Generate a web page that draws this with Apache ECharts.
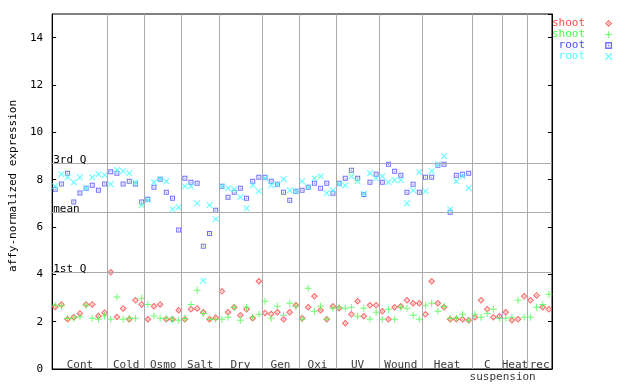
<!DOCTYPE html>
<html><head><meta charset="utf-8">
<script src="https://cdn.jsdelivr.net/npm/echarts@6/dist/echarts.min.js"></script>
<style>html,body{margin:0;padding:0;background:#fff}#c{width:640px;height:384px}</style>
</head><body><div id="c"></div>
<script>
const groupNames = ['Cont','Cold','Osmo','Salt','Dry','Gen','Oxi','UV','Wound','Heat','C','Heat','rec'];
const groupSizes = [9,6,6,6,7,6,6,7,7,8,5,4,4];
const subLabel = {text:'suspension', at:73.0};
const shootRep1 = [2.62,2.73,2.10,2.19,2.35,2.73,2.73,2.24,2.38,
  4.09,2.20,2.56,2.10,2.90,2.73,
  2.10,2.65,2.73,2.10,2.10,2.48,
  2.10,2.52,2.56,2.40,2.10,2.17,
  3.28,2.40,2.61,2.27,2.52,2.14,3.71,
  2.37,2.32,2.40,2.10,2.40,2.69,
  2.14,2.61,3.07,2.48,2.10,2.65,
  2.57,1.93,2.31,2.86,2.23,2.69,2.69,
  2.44,2.10,2.61,2.65,2.90,2.78,2.78,
  2.31,3.71,2.78,2.61,2.10,2.10,2.10,2.06,
  2.19,2.90,2.52,2.19,2.23,
  2.40,2.06,2.10,3.07,
  2.90,3.11,2.61,2.52];
const shootRep2 = [2.69,2.66,2.13,2.15,2.21,2.69,2.14,2.10,2.24,
  2.10,3.04,2.10,2.14,2.14,2.99,
  2.73,2.24,2.14,2.14,2.10,2.06,
  2.13,2.73,3.33,2.35,2.10,2.10,
  2.10,2.19,2.61,2.06,2.61,2.19,2.31,
  2.86,2.14,2.65,2.27,2.78,2.65,
  2.10,3.41,2.44,2.65,2.10,2.57,
  2.61,2.57,2.61,2.23,2.57,2.10,2.40,
  2.10,2.52,2.10,2.61,2.57,2.27,2.10,
  2.69,2.78,2.44,2.65,2.14,2.14,2.31,2.06,
  2.31,2.19,2.35,2.52,2.14,
  2.14,2.19,2.90,2.19,
  2.19,2.61,2.73,3.16];
const rootRep1 = [7.59,7.82,8.27,7.06,7.44,7.64,7.76,7.55,7.82,
  8.33,8.27,7.82,7.93,7.82,7.06,
  7.17,7.68,8.02,7.47,7.21,5.87,
  8.06,7.89,7.85,5.19,5.73,6.71,
  7.72,7.26,7.47,7.64,7.21,7.93,8.10,
  8.10,7.93,7.81,7.47,7.13,7.51,
  7.55,7.68,7.85,7.64,7.85,7.43,
  7.85,8.06,8.40,8.06,7.37,7.89,8.23,
  7.89,8.65,8.36,8.19,7.47,7.81,7.47,
  8.10,8.10,8.61,8.65,6.62,8.19,8.23,8.27,
  null,null,null,null,null,null,null,null,null,null,null,null,null];
const rootRep2 = [7.73,8.23,8.10,7.89,8.10,7.64,8.10,8.23,8.19,
  7.81,8.41,8.36,8.27,7.89,6.92,
  7.13,7.89,8.02,7.93,6.75,6.83,
  7.72,7.72,7.00,3.73,6.92,6.33,
  7.72,7.64,7.59,7.26,6.79,7.76,7.51,
  8.06,7.76,7.81,8.02,7.55,7.51,
  7.93,7.68,8.06,8.14,7.43,7.55,
  7.81,7.76,8.14,7.93,7.40,8.27,8.06,
  8.14,7.89,7.98,7.98,7.00,7.55,8.31,
  7.51,8.36,8.65,8.99,6.75,7.93,8.14,7.64,
  null,null,null,null,null,null,null,null,null,null,null,null,null];
const refLines = [{name:'3rd Q', value:8.69},{name:'mean', value:6.62},{name:'1st Q', value:4.09}];

const FONT = 'DejaVu Sans Mono';
const RED = '#ff4c4c', GREEN = '#4cff4c', BLUE = '#4c4cff', CYAN = '#4cffff';
const SYM_DIAMOND = 'path://M3.5,0L7,3.5L3.5,7L0,3.5Z M3.5,1.7L1.7,3.5L3.5,5.3L5.3,3.5Z M3.5,2.8L4.2,3.5L3.5,4.2L2.8,3.5Z';
const SYM_PLUS = 'path://M3,0H4V3H7V4H4V7H3V4H0V3H3Z';
const SYM_SQUARE = 'path://M0,0H5V5H0Z M1,1V4H4V1Z M2,2H3V3H2Z';
const SYM_X = 'path://M0,0L1,0L3.5,2.5L6,0L7,0L7,1L4.5,3.5L7,6L7,7L6,7L3.5,4.5L1,7L0,7L0,6L2.5,3.5L0,1Z';

const total = groupSizes.reduce((a,b)=>a+b,0);
const bounds = []; const centers = [];
let acc = 0;
groupSizes.forEach((s,k)=>{ centers.push(acc + s/2); acc += s; if (k < groupSizes.length-1) bounds.push(acc); });

const toPts = arr => arr.map((v,i)=> v==null ? null : [i+0.5, v]).filter(p=>p);

const chart = echarts.init(document.getElementById('c'), null, {renderer:'canvas'});
const labelData = groupNames.map((n,k)=>({value:[centers[k],0], name:n}));
labelData.push({value:[subLabel.at,0], name:subLabel.text, label:{position:'bottom', distance:3}});

chart.setOption({
  animation:false,
  backgroundColor:'#fff',
  textStyle:{fontFamily:FONT, fontSize:11, color:'#000'},
  grid:{left:44, right:88, top:14, bottom:15, show:true, borderColor:'#000', borderWidth:1, backgroundColor:'transparent'},
  legend:{
    orient:'vertical', left:552, top:18, padding:0, itemGap:0, itemWidth:7, itemHeight:7, align:'right',
    selectedMode:false,
    textStyle:{fontFamily:FONT, fontSize:11, lineHeight:11, width:33, padding:[0,15,0,0]},
    formatter: n => n.trim(),
    data:[
      {name:'shoot', textStyle:{color:RED}},
      {name:'shoot ', textStyle:{color:GREEN}},
      {name:'root', textStyle:{color:BLUE}},
      {name:'root ', textStyle:{color:CYAN}}
    ]
  },
  xAxis:{type:'value', min:0, max:total, axisLabel:{show:false}, axisTick:{show:false}, splitLine:{show:false},
    axisLine:{lineStyle:{color:'#000'}}},
  yAxis:[
    {type:'value', min:0, max:15, interval:2, position:'left',
      name:'affy-normalized expression', nameLocation:'middle', nameGap:27,
      nameTextStyle:{fontFamily:FONT, fontSize:11, color:'#000', padding:[0,0,0,11]},
      axisLine:{show:true, lineStyle:{color:'#000'}},
      axisTick:{show:true, inside:true, length:4, lineStyle:{color:'#000'}},
      axisLabel:{fontFamily:FONT, fontSize:11, color:'#000', margin:9, showMaxLabel:false},
      splitLine:{show:false}},
    {type:'value', min:0, max:15, interval:2, position:'right',
      axisLine:{show:true, lineStyle:{color:'#000'}},
      axisTick:{show:true, inside:true, length:4, lineStyle:{color:'#000'}},
      axisLabel:{show:false}, splitLine:{show:false}}
  ],
  series:[
    {type:'scatter', name:'_labels', symbolSize:0, z:1, silent:true, data:labelData,
      label:{show:true, position:'top', distance:-2, formatter:'{b}', fontFamily:FONT, fontSize:11, color:'#000'},
      markLine:{silent:true, symbol:['none','none'], animation:false,
        lineStyle:{color:'#aaaaaa', type:'solid', width:1},
        emphasis:{disabled:true},
        label:{show:false},
        data: bounds.map(b=>({xAxis:b, label:{show:false}})).concat(
          refLines.map(r=>({yAxis:r.value, name:r.name,
            label:{show:true, position:'insideStartTop', formatter:'{b}', distance:[1,-2],
              fontFamily:FONT, fontSize:11, color:'#000'}})))
      }},
    {type:'scatter', name:'shoot', symbol:SYM_DIAMOND, symbolSize:7, z:3, itemStyle:{color:RED}, data:toPts(shootRep1)},
    {type:'scatter', name:'shoot ', symbol:SYM_PLUS, symbolSize:7, z:3, itemStyle:{color:GREEN}, data:toPts(shootRep2)},
    {type:'scatter', name:'root', symbol:SYM_SQUARE, symbolSize:5, z:3, itemStyle:{color:BLUE}, data:toPts(rootRep1)},
    {type:'scatter', name:'root ', symbol:SYM_X, symbolSize:6, z:3, itemStyle:{color:CYAN}, data:toPts(rootRep2)}
  ]
});
</script></body></html>
